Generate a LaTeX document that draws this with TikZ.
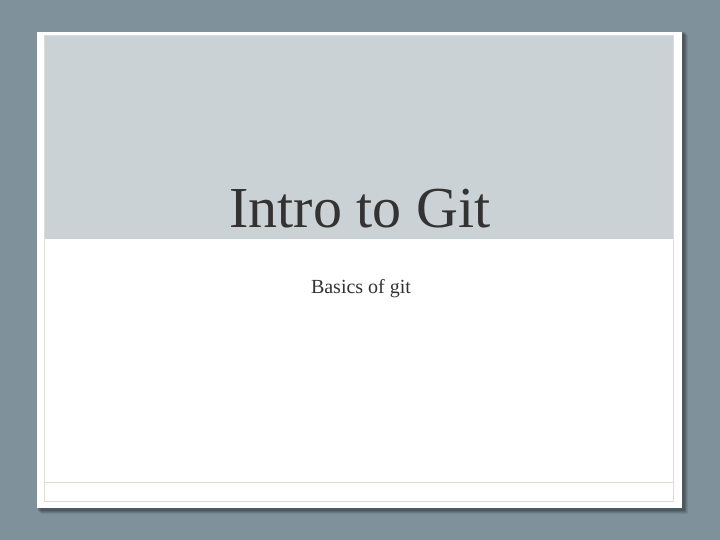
\documentclass[tikz,border=0pt]{standalone}
\usepackage{fontspec}
\setmainfont{Liberation Serif}
\definecolor{slate}{HTML}{7F929C}
\definecolor{header}{HTML}{CBD2D6}
\definecolor{rulecol}{HTML}{DEDDD4}
\definecolor{ink}{HTML}{333333}

\begin{document}
\begin{tikzpicture}[x=1pt,y=-1pt,
  title/.style={text=ink, font=\fontsize{58}{60}\selectfont, inner sep=0pt, anchor=base},
  subtitle/.style={text=ink, font=\fontsize{20}{22}\selectfont, inner sep=0pt, anchor=base}]
  \useasboundingbox (0,0) rectangle (720,540);
  \fill[slate] (0,0) rectangle (720,540);
  % card shadow
  \foreach \d/\o in {6/0.08,5/0.1,4/0.12,3/0.15}{
    \fill[black,opacity=\o] (37+\d-2,32+\d-3) rectangle (682+\d,508+\d);}
  \fill[white] (37,32) rectangle (682,508);
  \fill[header] (44,35) rectangle (673,239);
  \draw[rulecol] (44,35) rectangle (673,501);
  \draw[rulecol] (44,482) -- (673,482);
  \node[title] (title) at (360,227) {Intro to Git};
  \node[subtitle] (sub) at (361,293) {Basics of git};
\end{tikzpicture}
\end{document}
